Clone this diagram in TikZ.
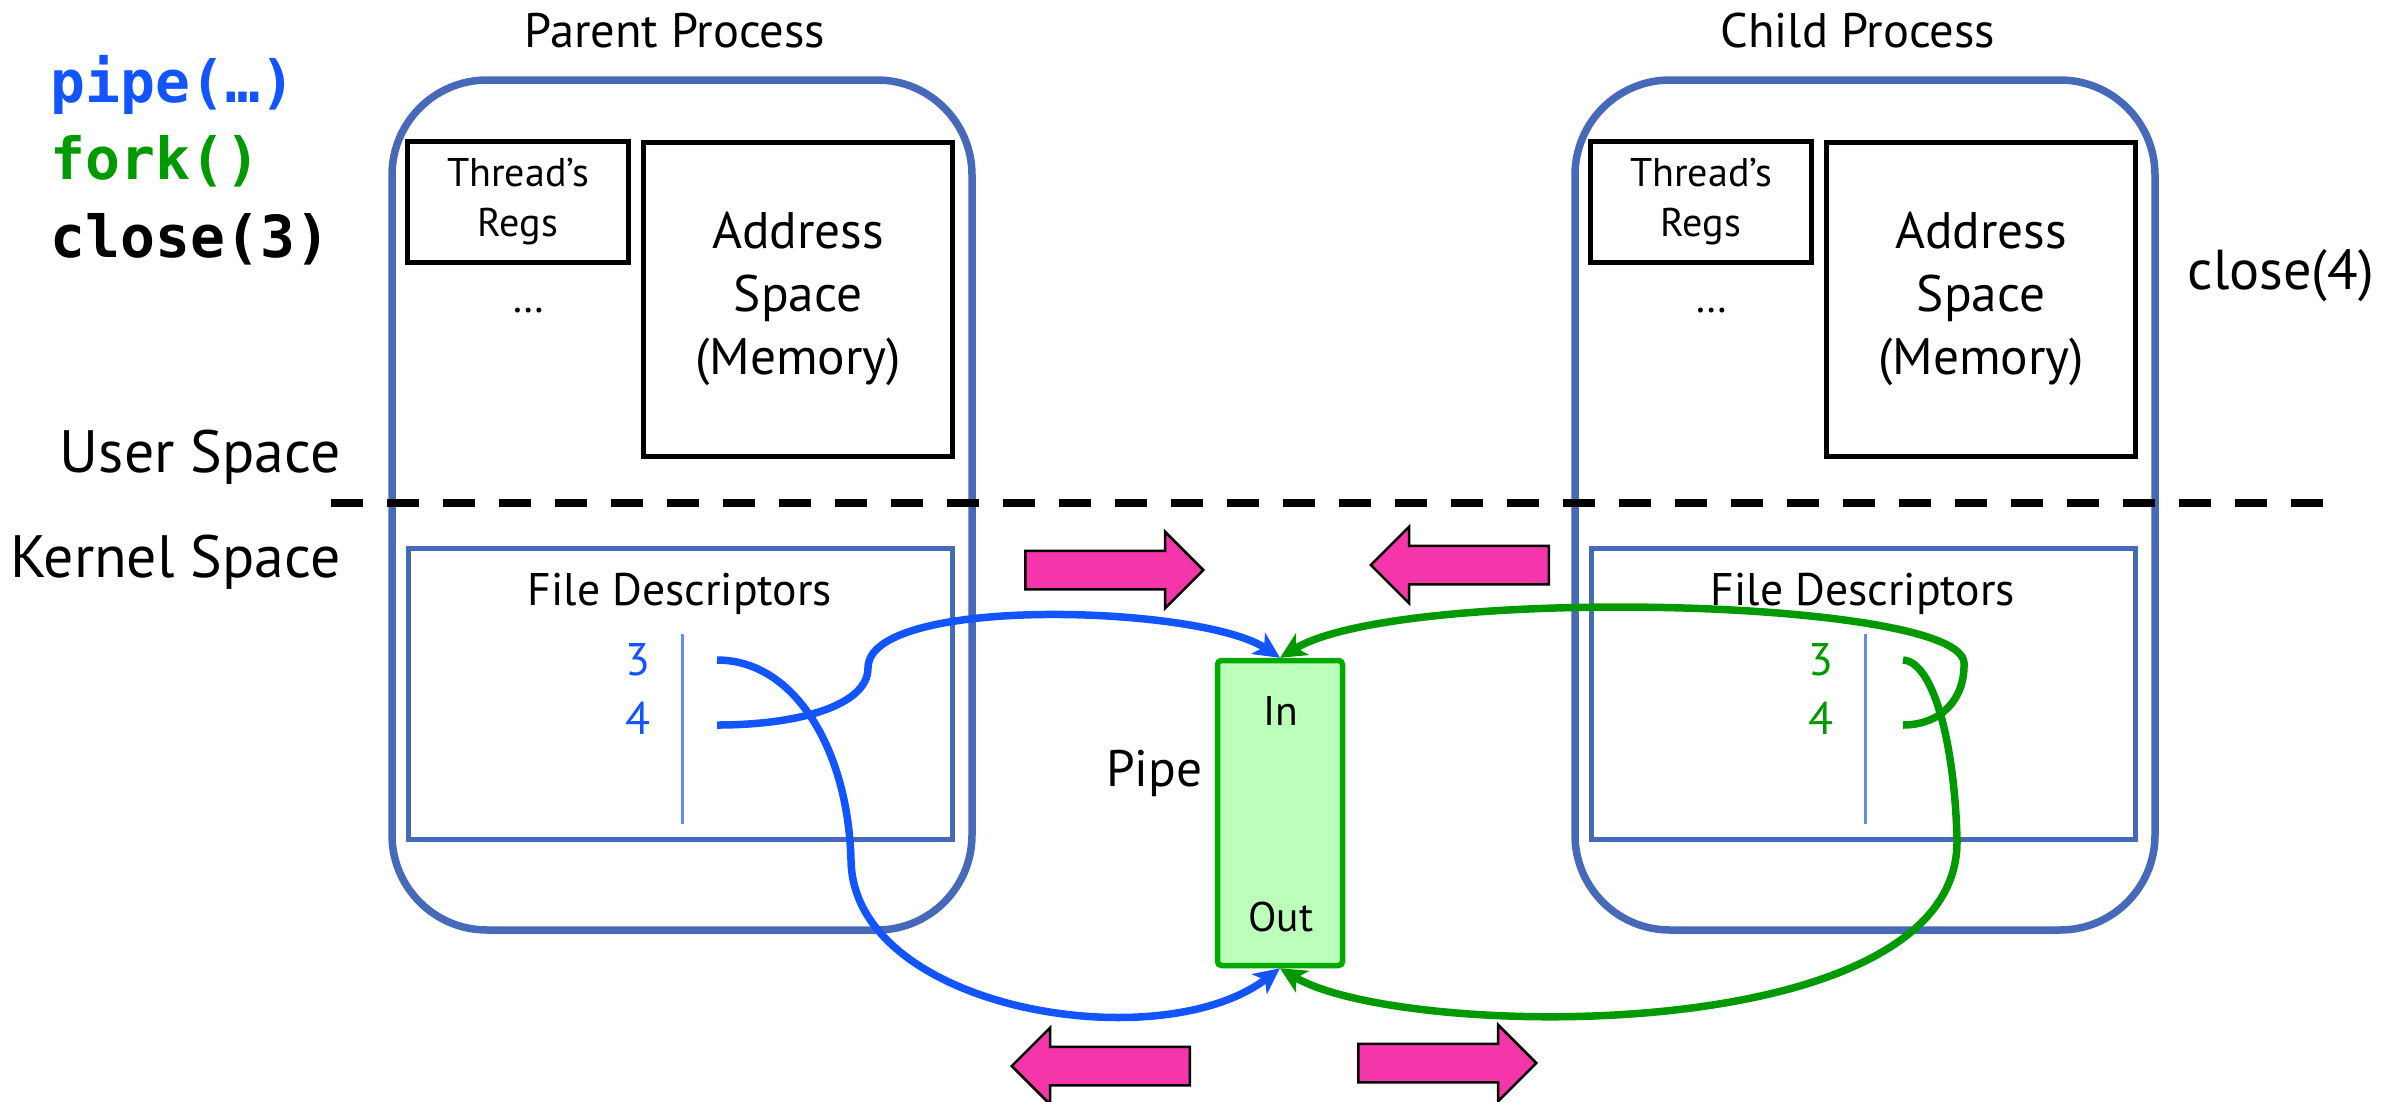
\documentclass[tikz,border=0pt]{standalone}
\usepackage{fontspec}
\setmainfont{PT Sans}
\newfontfamily\codefont{DejaVu Sans Mono}
\usepackage{tikz}
\usetikzlibrary{shapes.arrows, arrows.meta, positioning}

\definecolor{procblue}{HTML}{4769B9}
\definecolor{fdtick}{HTML}{5E8FEF}
\definecolor{pipeblue}{HTML}{1255FF}
\definecolor{forkgreen}{HTML}{009A00}
\definecolor{pipefill}{HTML}{BBFFBB}
\definecolor{pipeedge}{HTML}{00AA00}
\definecolor{flowpink}{HTML}{F535AA}

\begin{document}
\begin{tikzpicture}[
  x=0.1mm, y=-0.1mm,
  code/.style={anchor=base west, inner sep=0pt, font=\codefont\bfseries\fontsize{16.5}{19}\selectfont},
  process/.style={draw=procblue, line width=0.75mm, rounded corners=9.5mm, minimum width=58mm, minimum height=85mm, inner sep=0pt},
  proctitle/.style={anchor=base, inner sep=0pt, font=\fontsize{13.8}{16}\selectfont},
  regs/.style={draw, line width=0.5mm, inner sep=0pt, align=center, minimum width=22.1mm, minimum height=12.1mm, font=\fontsize{11.4}{14.2}\selectfont},
  memory/.style={draw, line width=0.5mm, inner sep=0pt, align=center, minimum width=30.9mm, minimum height=31.4mm, font=\fontsize{14.6}{17.9}\selectfont},
  fdtable/.style={draw=procblue, line width=0.5mm, inner sep=0pt, minimum width=54.4mm, minimum height=29.1mm},
  fdtitle/.style={anchor=base, inner sep=0pt, font=\fontsize{13}{15}\selectfont},
  fdnum/.style={anchor=base east, inner sep=0pt, font=\fontsize{13}{15}\selectfont},
  fdsep/.style={draw=fdtick, line width=0.3mm},
  spacename/.style={anchor=base east, inner sep=0pt, font=\fontsize{17}{20}\selectfont},
  pipebox/.style={draw=pipeedge, fill=pipefill, line width=0.55mm, rounded corners=0.4mm, minimum width=12.5mm, minimum height=30.5mm, inner sep=0pt},
  pipetext/.style={anchor=base, inner sep=0pt, font=\fontsize{11.8}{14}\selectfont},
  divider/.style={line width=0.8mm, dash pattern=on 3.2mm off 2.4mm},
  flow/.style={line width=0.75mm, -{Stealth[length=2.6mm, width=2.5mm, inset=0.7mm]}},
  bigarrow/.style={single arrow, draw=black, line width=0.25mm, fill=flowpink, inner xsep=0pt, inner ysep=1.8mm,
    minimum height=17.8mm, minimum width=7.4mm, single arrow head extend=1.9mm, single arrow tip angle=90}
]
\useasboundingbox (0,0) rectangle (2405,1101);

% system calls
\node[code, text=pipeblue] (pipecall) at (50,102) {pipe(…)};
\node[code, text=forkgreen] (forkcall) at (50,179) {fork()};
\node[code] (closecall) at (50,257) {close(3)};
\node[anchor=base west, inner sep=0pt, font=\fontsize{16}{19}\selectfont] (close4) at (2187,289) {close(4)};

\node[spacename] (user) at (341,472) {User Space};
\node[spacename] (kernel) at (341,577) {Kernel Space};

% parent
\node[process] (parent) at (682,505) {};
\node[proctitle] (ptitle) at (675,47) {Parent Process};
\node[regs] (pregs) at (518,202) {Thread’s\\Regs};
\node[memory] (pmem) at (798,299) {Address\\Space\\(Memory)};
\node[proctitle, font=\fontsize{12}{14}\selectfont] (pdots) at (528,312) {…};
\node[fdtable] (pfd) at (680,694) {};
\node[fdtitle] (pfdname) at (680,605) {File Descriptors};
\node[fdnum, text=pipeblue] (p3) at (651,675) {3};
\node[fdnum, text=pipeblue] (p4) at (651,734) {4};
\draw[fdsep] (682,634) -- (682,824);

% child
\node[process] (child) at (1865,505) {};
\node[proctitle] (ctitle) at (1858,47) {Child Process};
\node[regs] (cregs) at (1701,202) {Thread’s\\Regs};
\node[memory] (cmem) at (1981,299) {Address\\Space\\(Memory)};
\node[proctitle, font=\fontsize{12}{14}\selectfont] (cdots) at (1711,312) {…};
\node[fdtable] (cfd) at (1863,694) {};
\node[fdtitle] (cfdname) at (1863,605) {File Descriptors};
\node[fdnum, text=forkgreen] (c3) at (1834,675) {3};
\node[fdnum, text=forkgreen] (c4) at (1834,734) {4};
\draw[fdsep] (1865,634) -- (1865,824);

\draw[divider] (331,503) -- (2325,503);

% pipe
\node[pipebox] (pipe) at (1280,813) {};
\node[pipetext] (pin) at (1281,725) {In};
\node[pipetext] (pout) at (1281,931) {Out};
\node[anchor=base east, inner sep=0pt, font=\fontsize{14.6}{17}\selectfont] (pname) at (1203,786) {Pipe};

\node[bigarrow, anchor=tail] (wr1) at (1024,570) {};
\node[bigarrow, shape border rotate=180, anchor=tip] (wr2) at (1369,565) {};
\node[bigarrow, shape border rotate=180, anchor=tip] (rd1) at (1010,1066) {};
\node[bigarrow, anchor=tail] (rd2) at (1357,1063) {};

% descriptor ends
\coordinate (p3end) at (717,660);
\coordinate (p4end) at (717,725);
\coordinate (c3end) at (1903,660);
\coordinate (c4end) at (1903,725);

\draw[flow, pipeblue] (p4end) .. controls (800,725) and (868,705) .. (868,668)
  .. controls (868,595) and (1200,605) .. (pipe.north);
\draw[flow, pipeblue] (p3end) .. controls (795,660) and (848,750) .. (851,860)
  .. controls (853,1010) and (1160,1060) .. (pipe.south);
\draw[flow, forkgreen] (c4end) .. controls (1940,725) and (1965,700) .. (1964,663)
  .. controls (1962,598) and (1400,585) .. (pipe.north);
\draw[flow, forkgreen] (c3end) .. controls (1935,662) and (1955,750) .. (1957,840)
  .. controls (1960,1050) and (1400,1040) .. (pipe.south);

\end{tikzpicture}
\end{document}
